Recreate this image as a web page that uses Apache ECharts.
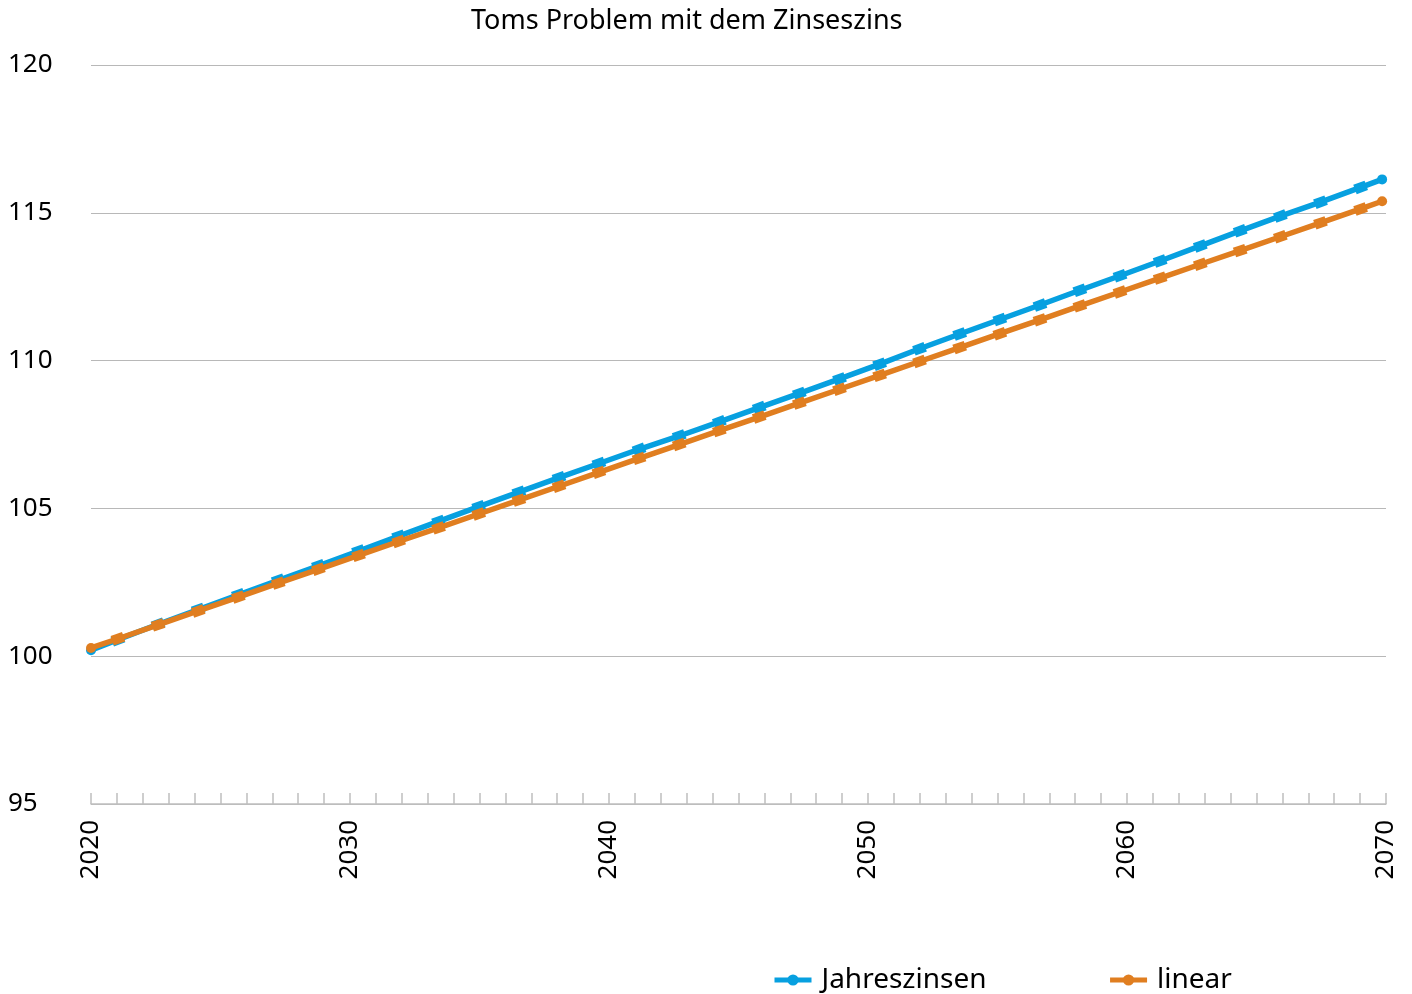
<!DOCTYPE html>
<html>
<head>
<meta charset="utf-8">
<script src="https://cdn.jsdelivr.net/npm/echarts@6/dist/echarts.min.js"></script>
<style>
html,body{margin:0;padding:0;background:#fff;}
#chart{width:1412px;height:994px;}
</style>
</head>
<body>
<div id="chart"></div>
<script>
const titleText = 'Toms Problem mit dem Zinseszins';
const seriesNames = ['Jahreszinsen', 'linear'];
const years = [2020.00, 2021.04, 2022.59, 2024.14, 2025.69, 2027.23, 2028.78, 2030.33, 2031.88, 2033.42,
  2034.97, 2036.52, 2038.07, 2039.61, 2041.16, 2042.71, 2044.26, 2045.80, 2047.35, 2048.90,
  2050.45, 2051.99, 2053.54, 2055.09, 2056.64, 2058.18, 2059.73, 2061.28, 2062.83, 2064.37,
  2065.92, 2067.47, 2069.02, 2069.85];
const jahreszinsen = [100.20, 100.56, 101.08, 101.58, 102.08, 102.57, 103.06, 103.56, 104.06, 104.56,
  105.06, 105.55, 106.04, 106.52, 107.00, 107.45, 107.93, 108.41, 108.89, 109.38,
  109.88, 110.40, 110.90, 111.39, 111.88, 112.38, 112.87, 113.37, 113.88, 114.39,
  114.89, 115.36, 115.86, 116.13];
const linear = [100.28, 100.59, 101.06, 101.53, 102.00, 102.47, 102.94, 103.41, 103.88, 104.34,
  104.81, 105.28, 105.75, 106.22, 106.69, 107.16, 107.63, 108.09, 108.56, 109.03,
  109.50, 109.97, 110.44, 110.91, 111.38, 111.85, 112.32, 112.79, 113.26, 113.72,
  114.19, 114.66, 115.13, 115.39];
const xMin = 2020, xMax = 2070, xLabelStep = 10;
const yMin = 95, yMax = 120, yStep = 5;

const FONT = 'Noto Sans';
const BLUE = '#07a0e0';
const ORANGE = '#e07e20';

function buildData(vals, rot) {
  const last = vals.length - 1;
  return vals.map((v, i) => {
    const end = (i === 0 || i === last);
    return {
      value: [years[i], v],
      symbol: end ? 'circle' : 'rect',
      symbolSize: end ? 10 : [12, 10],
      symbolRotate: end ? 0 : rot
    };
  });
}

const chart = echarts.init(document.getElementById('chart'));
chart.setOption({
  animation: false,
  backgroundColor: '#fff',
  title: {
    text: titleText,
    left: 466, top: 3,
    textStyle: {fontFamily: FONT, fontSize: 27, fontWeight: 'normal', color: '#000'}
  },
  legend: {
    data: seriesNames,
    left: 772, top: 966, padding: 0,
    itemWidth: 37, itemHeight: 14, itemGap: 121,
    lineStyle: {width: 5},
    textStyle: {fontFamily: FONT, fontSize: 28, color: '#000', padding: [0,0,0,5]}
  },
  grid: {left: 91, right: 26, top: 65, bottom: 190},
  xAxis: {
    type: 'value', min: xMin, max: xMax, interval: 1,
    axisLine: {show: true, lineStyle: {color: '#bfbfbf', width: 1.5}},
    axisTick: {show: true, inside: true, length: 11, lineStyle: {color: '#bfbfbf', width: 1.5}},
    splitLine: {show: false},
    axisLabel: {
      rotate: 90, margin: 16, color: '#000', fontFamily: FONT, fontSize: 26,
      formatter: v => (Math.round(v) % xLabelStep === 0 ? String(Math.round(v)) : '')
    }
  },
  yAxis: {
    type: 'value', min: yMin, max: yMax, interval: yStep,
    axisLine: {show: false}, axisTick: {show: false},
    splitLine: {show: true, lineStyle: {color: '#b8b8b8', width: 1.2}},
    axisLabel: {align: 'left', margin: 83, color: '#000', fontFamily: FONT, fontSize: 26, padding: [0,0,8,0]}
  },
  series: [
    {
      name: seriesNames[0], type: 'line', data: buildData(jahreszinsen, 20),
      symbol: 'circle', showAllSymbol: true,
      lineStyle: {color: BLUE, width: 5.5}, itemStyle: {color: BLUE}, z: 2
    },
    {
      name: seriesNames[1], type: 'line', data: buildData(linear, 19),
      symbol: 'circle', showAllSymbol: true,
      lineStyle: {color: ORANGE, width: 5.5}, itemStyle: {color: ORANGE}, z: 3
    }
  ]
});
</script>
</body>
</html>
